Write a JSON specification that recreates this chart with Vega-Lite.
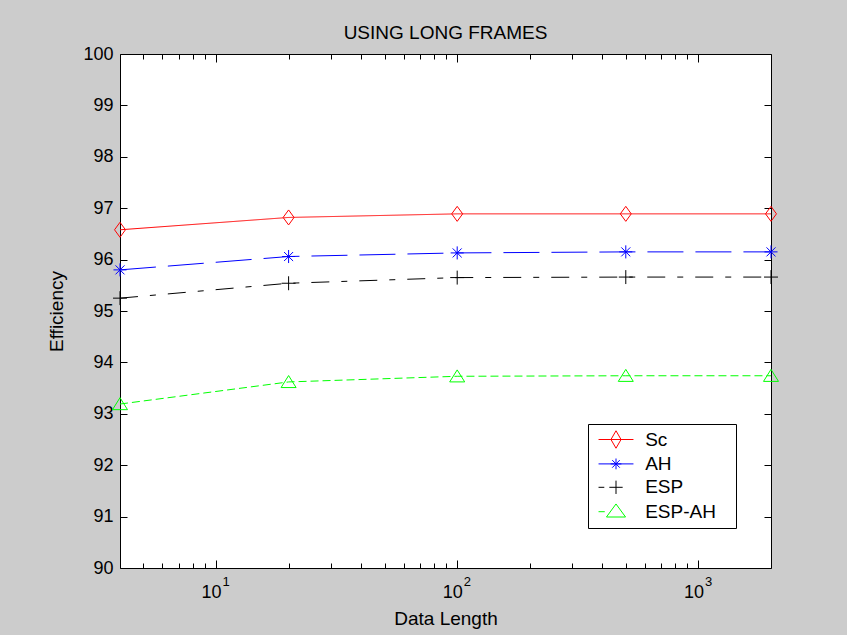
{
  "$schema": "https://vega.github.io/schema/vega-lite/v6.json",
  "width": 651,
  "height": 514,
  "autosize": {"type": "none"},
  "padding": {"left": 120, "top": 54, "right": 76, "bottom": 67},
  "background": "#cccccc",
  "config": {
    "view": {"fill": "white", "stroke": "black", "strokeWidth": 1},
    "font": "Liberation Sans",
    "axis": {
      "domain": false, "grid": false,
      "labelFont": "Liberation Sans", "labelColor": "black", "labelFontSize": 18,
      "tickColor": "black", "tickWidth": 1,
      "titleFont": "Liberation Sans", "titleColor": "black", "titleFontWeight": "normal", "titleFontSize": 19
    }
  },
  "title": {
    "text": "USING LONG FRAMES", "fontSize": 19, "fontWeight": "normal", "font": "Liberation Sans",
    "color": "black", "baseline": "alphabetic", "offset": -13, "anchor": "middle", "frame": "group"
  },
  "data": {
    "values": [
      {"series": "Sc", "len": 4, "eff": 96.58},
      {"series": "Sc", "len": 20, "eff": 96.82},
      {"series": "Sc", "len": 100, "eff": 96.89},
      {"series": "Sc", "len": 500, "eff": 96.89},
      {"series": "Sc", "len": 2000, "eff": 96.89},
      {"series": "AH", "len": 4, "eff": 95.80},
      {"series": "AH", "len": 20, "eff": 96.06},
      {"series": "AH", "len": 100, "eff": 96.13},
      {"series": "AH", "len": 500, "eff": 96.15},
      {"series": "AH", "len": 2000, "eff": 96.15},
      {"series": "ESP", "len": 4, "eff": 95.25},
      {"series": "ESP", "len": 20, "eff": 95.54},
      {"series": "ESP", "len": 100, "eff": 95.65},
      {"series": "ESP", "len": 500, "eff": 95.66},
      {"series": "ESP", "len": 2000, "eff": 95.66},
      {"series": "ESP-AH", "len": 4, "eff": 93.19},
      {"series": "ESP-AH", "len": 20, "eff": 93.62},
      {"series": "ESP-AH", "len": 100, "eff": 93.73},
      {"series": "ESP-AH", "len": 500, "eff": 93.74},
      {"series": "ESP-AH", "len": 2000, "eff": 93.74}
    ]
  },
  "layer": [
    {
      "mark": {"type": "line", "strokeWidth": 1},
      "encoding": {
        "x": {"field": "len", "type": "quantitative",
          "scale": {"type": "log", "domain": [4, 2000], "nice": false},
          "axis": {"orient": "bottom", "values": [10, 100, 1000], "offset": -8, "tickSize": 8,
            "labelExpr": "'10'", "labelPadding": 15, "labelOffset": -5, "labelFlush": false, "labelOverlap": false, "title": null}},
        "y": {"field": "eff", "type": "quantitative",
          "scale": {"domain": [90, 100], "nice": false, "zero": false},
          "axis": {"orient": "left", "values": [90, 91, 92, 93, 94, 95, 96, 97, 98, 99, 100], "offset": -7, "tickSize": 7,
            "labelPadding": 7, "labelFlush": false, "labelOverlap": false,
            "title": "Efficiency", "titleX": -65, "titleBaseline": "alphabetic", "titleAngle": 270}},
        "color": {"field": "series", "type": "nominal",
          "scale": {"domain": ["Sc", "AH", "ESP", "ESP-AH"], "range": ["#ff0000", "#0000ff", "#000000", "#00ff00"]},
          "legend": {
            "title": null, "orient": "none", "legendX": 468, "legendY": 370,
            "fillColor": "white", "strokeColor": "black", "padding": 6,
            "symbolSize": 324, "symbolStrokeWidth": 1, "symbolFillColor": "transparent",
            "symbolOffset": 12.5,
            "labelFontSize": 19, "labelFont": "Liberation Sans", "labelColor": "black",
            "labelOffset": 19.7, "rowPadding": 3.4,
            "encode": {
              "labels": {
                "update": {
                  "text": {"signal": "datum.label + '\u2800'"}
                }
              },
              "symbols": {
                "update": {
                  "fill": {"value": "transparent"},
                  "stroke": {"scale": "color", "field": "value"},
                  "strokeWidth": {"value": 1},
                  "opacity": {"value": 1},
                  "shape": {"signal": "datum.value === 'Sc' ? 'M-1.94,0L1.94,0M0,-0.97L0.56,0L0,0.97L-0.56,0Z' : datum.value === 'AH' ? 'M-1.94,0L1.94,0M-0.6,0L0.6,0M0,-0.6L0,0.6M-0.42,-0.42L0.42,0.42M-0.42,0.42L0.42,-0.42' : datum.value === 'ESP' ? 'M-1.94,0L-1.3,0M-0.74,0L0.74,0M0,-0.74L0,0.74' : 'M-1.94,0L-1.25,0M0,-0.86L1.06,0.59L-1.06,0.59Z'"}
                }
              }
            }
          }},
        "strokeDash": {"field": "series", "type": "nominal",
          "scale": {"domain": ["Sc", "AH", "ESP", "ESP-AH", "zzdash"], "range": [[1, 0], [36, 12], [18, 12, 6, 12], [8, 4], [1, 0]]},
          "legend": null}
      }
    },
    {
      "mark": {"type": "point", "filled": false, "strokeWidth": 1, "size": 225, "opacity": 1},
      "encoding": {
        "x": {"field": "len", "type": "quantitative",
          "scale": {"type": "log", "domain": [4, 2000], "nice": false},
          "axis": {"orient": "bottom", "values": [5, 6, 7, 8, 9, 20, 30, 40, 50, 60, 70, 80, 90, 200, 300, 400, 500, 600, 700, 800, 900],
            "offset": -5, "tickSize": 5, "labels": false, "title": null}},
        "y": {"field": "eff", "type": "quantitative",
          "scale": {"domain": [90, 100], "nice": false, "zero": false},
          "axis": {"orient": "right", "values": [90, 91, 92, 93, 94, 95, 96, 97, 98, 99, 100], "offset": -7, "tickSize": 7,
            "labels": false, "title": null}},
        "color": {"field": "series", "type": "nominal",
          "scale": {"domain": ["Sc", "AH", "ESP", "ESP-AH"], "range": ["#ff0000", "#0000ff", "#000000", "#00ff00"]}},
        "shape": {"field": "series", "type": "nominal",
          "scale": {"domain": ["Sc", "AH", "ESP", "ESP-AH", "zzshape"],
            "range": ["M0,-1L0.73,0L0,1L-0.73,0Z",
              "M-0.87,0L0.87,0M0,-0.87L0,0.87M-0.6,-0.6L0.6,0.6M-0.6,0.6L0.6,-0.6",
              "M-0.93,0L0.93,0M0,-0.93L0,0.93",
              "M0,-0.85L1,0.75L-1,0.75Z",
              "circle"]},
          "legend": null}
      }
    },
    {
      "mark": {"type": "point", "opacity": 0},
      "encoding": {
        "x": {"field": "len", "type": "quantitative",
          "scale": {"type": "log", "domain": [4, 2000], "nice": false},
          "axis": {"orient": "bottom", "values": [10, 100, 1000], "ticks": false, "offset": 0,
            "labelExpr": "datum.value == 10 ? '1' : datum.value == 100 ? '2' : '3'",
            "labelFontSize": 13, "labelAlign": "left", "labelOffset": 6, "labelPadding": 7,
            "labelFlush": false, "labelOverlap": false,
            "title": "Data Length", "titleY": 56, "titleBaseline": "alphabetic"}},
        "y": {"field": "eff", "type": "quantitative", "scale": {"domain": [90, 100], "nice": false, "zero": false}, "axis": null}
      }
    },
    {
      "mark": {"type": "point", "opacity": 0},
      "encoding": {
        "x": {"field": "len", "type": "quantitative",
          "scale": {"type": "log", "domain": [4, 2000], "nice": false},
          "axis": {"orient": "top", "values": [10, 100, 1000], "offset": -8, "tickSize": 8, "labels": false, "title": null}},
        "y": {"field": "eff", "type": "quantitative", "scale": {"domain": [90, 100], "nice": false, "zero": false}, "axis": null}
      }
    },
    {
      "mark": {"type": "point", "opacity": 0},
      "encoding": {
        "x": {"field": "len", "type": "quantitative",
          "scale": {"type": "log", "domain": [4, 2000], "nice": false},
          "axis": {"orient": "top", "values": [5, 6, 7, 8, 9, 20, 30, 40, 50, 60, 70, 80, 90, 200, 300, 400, 500, 600, 700, 800, 900],
            "offset": -5, "tickSize": 5, "labels": false, "title": null}},
        "y": {"field": "eff", "type": "quantitative", "scale": {"domain": [90, 100], "nice": false, "zero": false}, "axis": null}
      }
    }
  ],
  "resolve": {"axis": {"x": "independent", "y": "independent"}}
}
